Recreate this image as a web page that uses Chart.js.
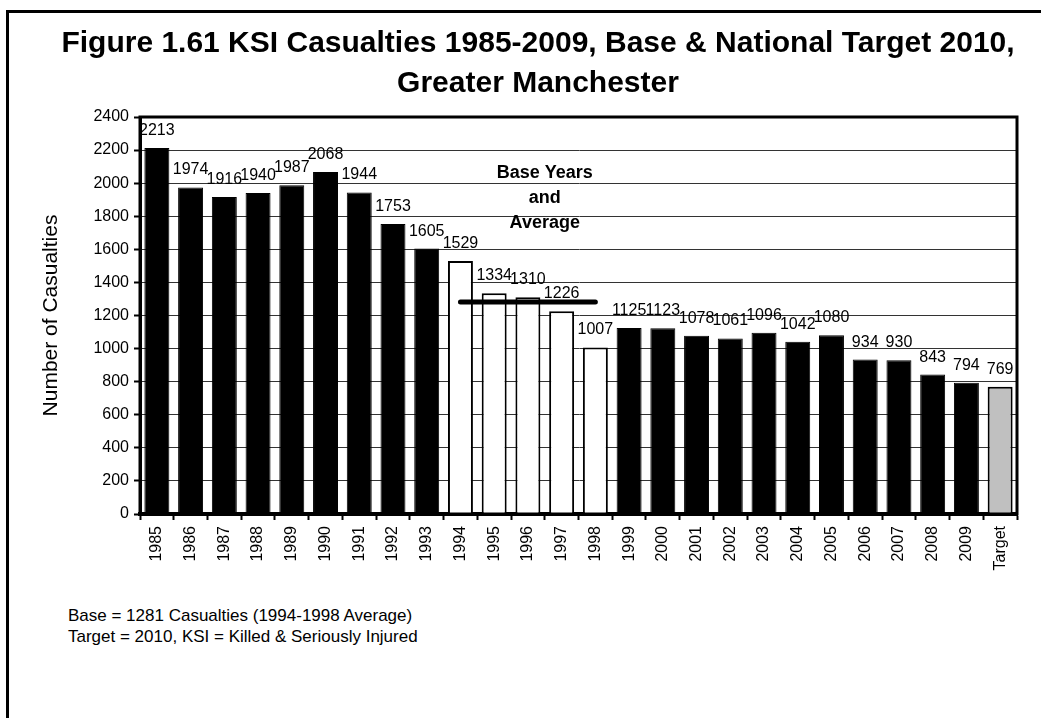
<!DOCTYPE html>
<html lang="en">

<head>
    <meta charset="UTF-8">
    <title>KSI Casualties, Greater Manchester</title>
    <script src="https://cdn.jsdelivr.net/npm/chart.js"></script>
    <style>
        body {
            margin: 0;
            background: #fff;
            overflow: hidden;
            font-family: "Liberation Sans", Arial, sans-serif;
        }
        #frame {
            position: absolute;
            left: 6px;
            top: 10px;
            width: 1100px;
            height: 800px;
            border-left: 3px solid #000;
            border-top: 3px solid #000;
        }
        #title {
            position: absolute;
            left: 38px;
            width: 1000px;
            top: 22px;
            text-align: center;
            font-weight: bold;
            font-size: 30px;
            line-height: 40px;
            color: #000;
        }
        #notes {
            position: absolute;
            left: 68px;
            top: 605px;
            font-size: 17px;
            line-height: 21px;
            color: #000;
        }
        #chartBox {
            position: absolute;
            left: 0;
            top: 0;
            width: 1041px;
            height: 600px;
        }
    </style>
</head>

<body>
    <div id="frame"></div>
    <div id="chartBox"><canvas id="ksiChart"></canvas></div>
    <div id="title">Figure 1.61 KSI Casualties 1985-2009, Base &amp; National Target 2010,<br>Greater Manchester</div>
    <div id="notes">Base = 1281 Casualties (1994-1998 Average)<br>Target = 2010, KSI = Killed &amp; Seriously Injured</div>

    <script>
        // values
        const years = ["1985", "1986", "1987", "1988", "1989", "1990", "1991", "1992", "1993", "1994",
            "1995", "1996", "1997", "1998", "1999", "2000", "2001", "2002", "2003", "2004",
            "2005", "2006", "2007", "2008", "2009", "Target"];
        const casualties = [2213, 1974, 1916, 1940, 1987, 2068, 1944, 1753, 1605, 1529,
            1334, 1310, 1226, 1007, 1125, 1123, 1078, 1061, 1096, 1042,
            1080, 934, 930, 843, 794, 769];
        const baseYears = ["1994", "1995", "1996", "1997", "1998"];
        const baseAverage = 1281;
        const baseNote = ["Base Years", "and", "Average"];
        const yTicks = [0, 200, 400, 600, 800, 1000, 1200, 1400, 1600, 1800, 2000, 2200, 2400];

        const FONT = "'Liberation Sans', Arial, sans-serif";

        const barColors = years.map(y => {
            if (y === "Target") return "#c0c0c0";
            if (baseYears.includes(y)) return "#ffffff";
            return "#000000";
        });
        const barBorders = barColors.map(c => c === "#000000" ? 1 : 2);

        // base line only over the base years
        const baseLine = years.map(y => baseYears.includes(y) ? baseAverage : null);

        // value labels above the bars, base years note, plot frame
        const extras = {
            id: "extras",
            afterDatasetsDraw(chart) {
                const ctx = chart.ctx;
                const meta = chart.getDatasetMeta(0);
                ctx.save();
                ctx.fillStyle = "#000";
                ctx.font = "16px " + FONT;
                ctx.textAlign = "center";
                ctx.textBaseline = "alphabetic";
                meta.data.forEach((bar, i) => {
                    ctx.fillText(String(casualties[i]), bar.x, bar.y - 13);
                });

                const xs = chart.scales.x;
                const ys = chart.scales.y;
                const i0 = years.indexOf("1996");
                const cx = (xs.getPixelForValue(i0) + xs.getPixelForValue(i0 + 1)) / 2;
                const top = ys.getPixelForValue(2060);
                ctx.font = "bold 18px " + FONT;
                ctx.textBaseline = "middle";
                baseNote.forEach((line, k) => {
                    ctx.fillText(line, cx, top + k * 25);
                });

                const a = chart.chartArea;
                ctx.lineWidth = 3;
                ctx.strokeStyle = "#000";
                ctx.strokeRect(a.left, a.top, a.right - a.left, a.bottom - a.top);
                ctx.restore();
            }
        };

        new Chart(document.getElementById("ksiChart"), {
            data: {
                labels: years,
                datasets: [{
                    type: "bar",
                    data: casualties,
                    backgroundColor: barColors,
                    borderColor: "#000",
                    borderWidth: barBorders,
                    barPercentage: 0.74,
                    categoryPercentage: 1,
                    order: 1
                }, {
                    type: "line",
                    data: baseLine,
                    borderColor: "#000",
                    borderWidth: 5,
                    borderCapStyle: "round",
                    pointRadius: 0,
                    fill: false,
                    order: 0
                }]
            },
            options: {
                responsive: true,
                maintainAspectRatio: false,
                animation: false,
                layout: {
                    padding: { left: 20, right: 24, top: 117, bottom: 0 }
                },
                plugins: {
                    legend: { display: false },
                    tooltip: { enabled: false }
                },
                scales: {
                    x: {
                        offset: true,
                        grid: {
                            offset: true,
                            drawOnChartArea: false,
                            drawTicks: true,
                            tickLength: 6,
                            tickWidth: 2,
                            tickColor: "#000"
                        },
                        border: { color: "#000", width: 4 },
                        ticks: {
                            minRotation: 90,
                            maxRotation: 90,
                            autoSkip: false,
                            padding: 6,
                            color: "#000",
                            font: { family: FONT, size: 16 }
                        },
                        afterFit(scale) {
                            scale.height = 86;
                        }
                    },
                    y: {
                        min: 0,
                        max: 2400,
                        afterBuildTicks(scale) {
                            scale.ticks = yTicks.map(v => ({ value: v }));
                        },
                        grid: {
                            color: "#333",
                            lineWidth: 1,
                            tickLength: 6,
                            tickColor: "#000",
                            tickWidth: 2
                        },
                        border: { color: "#000", width: 3 },
                        ticks: {
                            padding: 5,
                            color: "#000",
                            font: { family: FONT, size: 16 },
                            callback: v => String(v)
                        },
                        title: {
                            display: true,
                            text: "Number of Casualties",
                            color: "#000",
                            font: { family: FONT, size: 21 },
                            padding: { top: 19, bottom: 0 }
                        },
                        afterFit(scale) {
                            scale.width = 120;
                        }
                    }
                }
            },
            plugins: [extras]
        });
    </script>
</body>

</html>
